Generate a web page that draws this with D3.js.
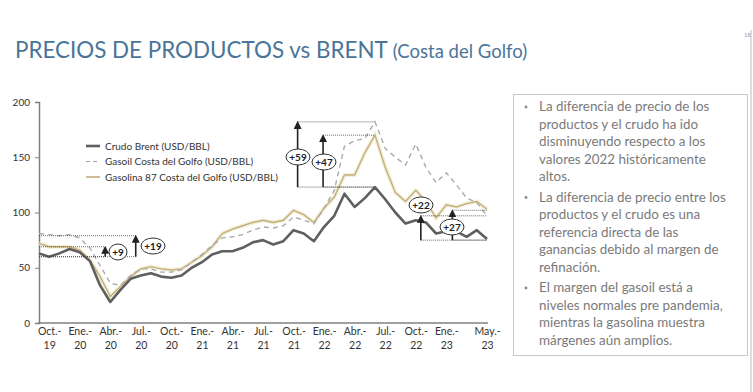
<!DOCTYPE html>
<html lang="es">
<head>
<meta charset="UTF-8">
<title>Precios de productos vs Brent</title>
<script src="https://d3js.org/d3.v7.min.js"></script>
<style>
  body { margin: 0; background: #fff; }
  svg { display: block; font-family: Lato, "Noto Sans", sans-serif; }
</style>
</head>
<body>
<div id="chart"></div>
<script>
// monthly data, Sep-19 .. May-23
var months = ["Sep-19","Oct-19","Nov-19","Dic-19","Ene-20","Feb-20","Mar-20","Abr-20","May-20","Jun-20","Jul-20","Ago-20",
  "Sep-20","Oct-20","Nov-20","Dic-20","Ene-21","Feb-21","Mar-21","Abr-21","May-21","Jun-21","Jul-21","Ago-21",
  "Sep-21","Oct-21","Nov-21","Dic-21","Ene-22","Feb-22","Mar-22","Abr-22","May-22","Jun-22","Jul-22","Ago-22",
  "Sep-22","Oct-22","Nov-22","Dic-22","Ene-23","Feb-23","Mar-23","Abr-23","May-23"];

var brent = [63,60,63,67,64,56,34,19,30,40,43,45,
  42,41,43,50,55,62,65,65,68,73,75,71,
  74,84,81,74,87,97,117,105,113,123,112,100,
  90,93,91,81,83,83,78,84,76];

var gasoil = [81,80,79,80,77,68,52,36,34,43,49,49,
  46,46,48,55,62,70,77,78,80,84,87,86,
  88,96,93,90,104,120,160,165,167,182,158,150,
  143,162,141,127,136,125,113,109,97];

var gasolina = [72,69,69,69,66,57,42,24,33,42,49,51,
  49,48,49,55,61,69,81,85,88,91,93,91,
  93,102,98,91,104,114,134,134,154,170,141,118,
  110,120,110,95,107,105,108,110,103];

var tickMonths = ["Oct-19","Ene-20","Abr-20","Jul-20","Oct-20","Ene-21","Abr-21","Jul-21","Oct-21","Ene-22","Abr-22","Jul-22","Oct-22","Ene-23","May-23"];
var yTicks = [0, 50, 100, 150, 200];

var seriesNames = ["Crudo Brent (USD/BBL)", "Gasoil Costa del Golfo (USD/BBL)", "Gasolina 87 Costa del Golfo (USD/BBL)"];

// margin annotations: month index of the arrow, base and top value, label
var annotations = [
  { at: 6.5,  base: 60,  top: 69,  label: "+9",  from: 0,  to: 6.5 },
  { at: 9.5,  base: 60,  top: 79,  label: "+19", from: 0,  to: 9.5 },
  { at: 25.4, base: 123, top: 182, label: "+59", from: 25.4, to: 33 },
  { at: 27.9, base: 123, top: 170, label: "+47", from: 27.9, to: 33 },
  { at: 37.5, base: 75,  top: 97,  label: "+22", from: 37.5, to: 44 },
  { at: 40.6, base: 75,  top: 102, label: "+27", from: 40.6, to: 44 }
];

var bullets = [
  ["La diferencia de precio de los", "productos y el crudo ha ido", "disminuyendo respecto a los", "valores 2022 históricamente", "altos."],
  ["La diferencia de precio entre los", "productos y el crudo es una", "referencia directa de las", "ganancias debido al margen de", "refinación."],
  ["El margen del gasoil está a", "niveles normales pre pandemia,", "mientras la gasolina muestra", "márgenes aún amplios."]
];

var W = 753, H = 392;
var svg = d3.select("#chart").append("svg").attr("width", W).attr("height", H);

// title
var title = svg.append("text").attr("x", 15).attr("y", 58).style("fill", "#4a7599");
title.append("tspan").style("font-size", "22.4px").text("PRECIOS DE PRODUCTOS vs BRENT ");
title.append("tspan").style("font-size", "18.5px").text("(Costa del Golfo)");

// page number + right edge
svg.append("text").attr("x", 744).attr("y", 37).style("font-size", "6px").style("fill", "#999").text("18");
svg.append("line").attr("x1", 751).attr("x2", 751).attr("y1", 30).attr("y2", H)
  .style("stroke", "#bbb").style("stroke-width", 1);

// scales
var x = d3.scalePoint().domain(months).range([39, 487]);
var xi = d3.scaleLinear().domain([0, months.length - 1]).range([39, 487]);
var y = d3.scaleLinear().domain([0, 200]).range([323, 102]);

// axes
var yAxis = svg.append("g").attr("transform", "translate(39,0)")
  .call(d3.axisLeft(y).tickValues(yTicks).tickSize(4).tickPadding(5));
yAxis.selectAll("text").style("font-size", "10px").style("fill", "#333").style("font-family", "Lato, sans-serif");
yAxis.selectAll("line, path").style("stroke", "#808080");
yAxis.select(".domain").style("stroke-width", 1.5);

var xAxis = svg.append("g").attr("transform", "translate(0,323)")
  .call(d3.axisBottom(x).tickValues(tickMonths).tickSize(0).tickPadding(6).tickFormat(function () { return ""; }));
xAxis.select(".domain").attr("d", "M38,0H488").style("stroke", "#808080").style("stroke-width", 1.5);
xAxis.selectAll(".tick").each(function (d) {
  var parts = d.split("-");
  var t = d3.select(this).select("text").style("font-size", "10.5px").style("fill", "#333")
    .style("font-family", "Lato, sans-serif").attr("y", 5);
  t.append("tspan").attr("x", 0).attr("dy", "0.71em").text(parts[0] + ".-");
  t.append("tspan").attr("x", 0).attr("dy", "1.25em").text(parts[1]);
});

// lines
var line = function (vals) {
  return d3.line().x(function (d, i) { return x(months[i]); }).y(function (d) { return y(d); })(vals);
};
svg.append("path").attr("d", line(gasolina)).style("fill", "none")
  .style("stroke", "#f3ead2").style("stroke-width", 4).style("opacity", 0.8);
svg.append("path").attr("d", line(gasolina)).style("fill", "none")
  .style("stroke", "#c2b07a").style("stroke-width", 1.4);
svg.append("path").attr("d", line(gasoil)).style("fill", "none")
  .style("stroke", "#ababab").style("stroke-width", 1.4).style("stroke-dasharray", "5,4");
svg.append("path").attr("d", line(brent)).style("fill", "none")
  .style("stroke", "#5f5f5f").style("stroke-width", 2.6).style("stroke-linejoin", "round");

// annotations
svg.append("defs").append("marker").attr("id", "arr").attr("viewBox", "0 0 6 6")
  .attr("refX", 3).attr("refY", 3).attr("markerWidth", 5).attr("markerHeight", 5).attr("orient", "auto")
  .append("path").attr("d", "M0,0L6,3L0,6Z").style("fill", "#222");

var ann = svg.append("g");
annotations.forEach(function (a) {
  ann.append("line").attr("x1", xi(a.from)).attr("x2", xi(a.to)).attr("y1", y(a.base)).attr("y2", y(a.base))
    .style("stroke", "#444").style("stroke-width", 0.8).style("stroke-dasharray", "1,1");
  ann.append("line").attr("x1", xi(a.from)).attr("x2", xi(a.to)).attr("y1", y(a.top)).attr("y2", y(a.top))
    .style("stroke", "#444").style("stroke-width", 0.8).style("stroke-dasharray", "1,1");
  ann.append("line").attr("x1", xi(a.at)).attr("x2", xi(a.at)).attr("y1", y(a.base)).attr("y2", y(a.top) + 3)
    .style("stroke", "#222").style("stroke-width", 1.6).attr("marker-end", "url(#arr)");
});

// labels in ellipses
var labelPos = { "+9": [118, 252], "+19": [153, 246], "+59": [298, 157], "+47": [324, 162], "+22": [421, 205], "+27": [452, 227] };
annotations.forEach(function (a) {
  var p = labelPos[a.label];
  var rx = a.label.length > 2 ? 12 : 9;
  ann.append("ellipse").attr("cx", p[0]).attr("cy", p[1]).attr("rx", rx).attr("ry", 8)
    .style("fill", "#fff").style("stroke", "#333").style("stroke-width", 1);
  ann.append("text").attr("x", p[0]).attr("y", p[1] + 3.5).attr("text-anchor", "middle")
    .style("font-size", "10px").style("font-weight", "bold").style("fill", "#222").text(a.label);
});

// legend
var legend = svg.append("g").attr("transform", "translate(86,146)");
var legStyles = [
  { stroke: "#5f5f5f", w: 2.6, dash: null },
  { stroke: "#a3a3a3", w: 1.2, dash: "4,3" },
  { stroke: "#bfae7a", w: 1.6, dash: null }
];
seriesNames.forEach(function (n, i) {
  var g = legend.append("g").attr("transform", "translate(0," + (i * 15.5) + ")");
  g.append("line").attr("x1", 0).attr("x2", 14).attr("y1", 0).attr("y2", 0)
    .style("stroke", legStyles[i].stroke).style("stroke-width", legStyles[i].w)
    .style("stroke-dasharray", legStyles[i].dash);
  g.append("text").attr("x", 19).attr("y", 3.5).style("font-size", "10px").style("fill", "#333").text(n);
});

// text box
var box = svg.append("g");
box.append("rect").attr("x", 513.5).attr("y", 94.5).attr("width", 234).attr("height", 261)
  .style("fill", "#fff").style("stroke", "#c8c8c8").style("stroke-width", 1);
var ty = 111;
bullets.forEach(function (b) {
  box.append("circle").attr("cx", 526).attr("cy", ty - 4).attr("r", 1.4).style("fill", "#888");
  b.forEach(function (l) {
    box.append("text").attr("x", 539).attr("y", ty).style("font-size", "13.4px").style("fill", "#7a7a7a").text(l);
    ty += 17.6;
  });
  ty += 2.5;
});
</script>
</body>
</html>
